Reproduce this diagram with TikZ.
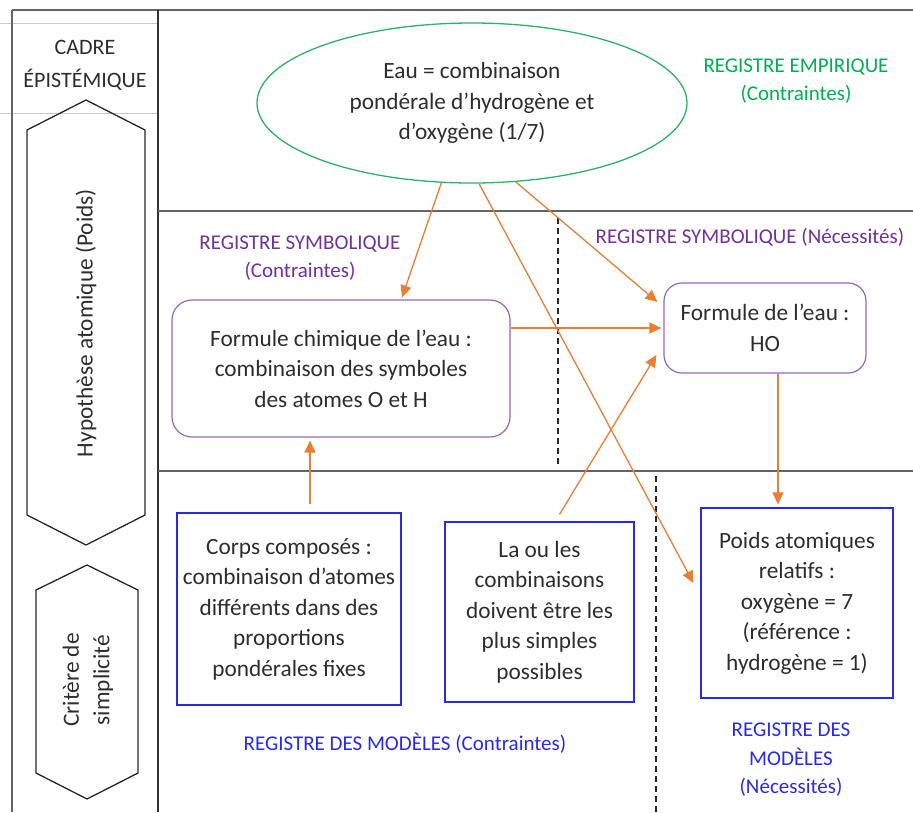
\documentclass[tikz,border=0pt]{standalone}
\usepackage{fontspec}
\setmainfont{Carlito}
\usetikzlibrary{arrows.meta,shapes.geometric,calc}
\definecolor{txt}{RGB}{45,45,45}
\definecolor{orng}{RGB}{237,125,49}
\definecolor{grn}{RGB}{0,176,80}
\definecolor{grnline}{RGB}{40,180,100}
\definecolor{purp}{RGB}{112,48,160}
\definecolor{purpline}{RGB}{150,100,200}
\definecolor{blu}{RGB}{40,40,245}
\definecolor{gridgray}{RGB}{100,100,100}
\definecolor{lightgray}{RGB}{200,200,200}
\tikzset{
  maintext/.style={text=txt,font=\fontsize{23.3}{30.5}\selectfont,align=center,inner sep=0pt},
  labeltext/.style={font=\fontsize{21}{28.5}\selectfont,align=center,inner sep=0pt},
  symbox/.style={draw=purpline,line width=1.2pt,rounded corners=20pt,maintext},
  modbox/.style={draw=blu,line width=1.2pt,maintext},
  oarrow/.style={draw=orng,line width=1.3pt,-{Triangle[length=12pt,width=11pt]}},
  hexshape/.style={draw=black!85,line width=1.3pt},
}
\begin{document}
\begin{tikzpicture}[x=1pt,y=-1pt]
\useasboundingbox (0,0) rectangle (913,812);
% frame lines
\draw[lightgray,line width=0.8pt] (0,23) -- (158,23);
\draw[lightgray,line width=0.8pt] (0,113) -- (158,113);
\draw[gridgray,line width=1.2pt] (12,10) -- (913,10);
\draw[gridgray,line width=1.2pt] (12,10) -- (12,812);
\draw[black!80,line width=2pt] (158,10) -- (158,812);
\draw[gridgray,line width=2pt] (158,211) -- (913,211);
\draw[gridgray,line width=2pt] (158,471) -- (913,471);
\draw[black!85,line width=1.3pt,dash pattern=on 6pt off 4pt] (558,218) -- (558,466);
\draw[black!85,line width=1.3pt,dash pattern=on 6pt off 4pt] (656,476) -- (656,812);
% left column
\node[maintext,font=\fontsize{22}{33}\selectfont] (cadre) at (85,65) {CADRE\\ÉPISTÉMIQUE};
\draw[hexshape] (86,100) -- (145,130) -- (145,515) -- (86,545) -- (27,515) -- (27,130) -- cycle;
\node[maintext,rotate=90] (hyp) at (86,323) {Hypothèse atomique (Poids)};
\draw[hexshape] (87,565) -- (138,590) -- (138,773) -- (87,799) -- (36,773) -- (36,590) -- cycle;
\node[maintext,rotate=90] (crit) at (88,680) {Critère de\\simplicité};
% ellipse
\node[ellipse,draw=grnline,line width=1.3pt,minimum width=430pt,minimum height=160pt,inner sep=0pt,maintext] (eau) at (472,103) {Eau = combinaison\\pondérale d’hydrogène et\\d’oxygène (1/7)};
% labels
\node[labeltext,text=grn] (lemp) at (796,81) {REGISTRE EMPIRIQUE\\(Contraintes)};
\node[labeltext,text=purp] (lsym1) at (300,258) {REGISTRE SYMBOLIQUE\\(Contraintes)};
\node[labeltext,text=purp] (lsym2) at (750,237) {REGISTRE SYMBOLIQUE (Nécessités)};
\node[labeltext,text=blu] (lmod1) at (405,743) {REGISTRE DES MODÈLES (Contraintes)};
\node[labeltext,text=blu] (lmod2) at (791,760) {REGISTRE DES\\MODÈLES\\(Nécessités)};
% boxes
\node[symbox,minimum width=338pt,minimum height=137pt] (fc) at (341,368.5) {Formule chimique de l’eau :\\combinaison des symboles\\des atomes O et H};
\node[symbox,rounded corners=18pt,minimum width=202pt,minimum height=90pt] (fe) at (765,328) {Formule de l’eau :\\HO};
\node[modbox,minimum width=224pt,minimum height=192pt] (cc) at (289,609) {Corps composés :\\combinaison d’atomes\\différents dans des\\proportions\\pondérales fixes};
\node[modbox,minimum width=189pt,minimum height=180pt] (lb) at (539.5,612) {La ou les\\combinaisons\\doivent être les\\plus simples\\possibles};
\node[modbox,minimum width=192pt,minimum height=190pt] (pa) at (797,603) {Poids atomiques\\relatifs :\\oxygène = 7\\(référence :\\hydrogène = 1)};
% arrows
\draw[oarrow] (eau.-111) -- ([xshift=61pt,yshift=2pt]fc.north);
\draw[oarrow] (eau.-61) -- ([xshift=-6pt,yshift=26pt]fe.west);
\draw[oarrow] (eau.-85) -- ([xshift=-7pt,yshift=20pt]pa.west);
\draw[oarrow] (fc.east |- fe.west) -- ([xshift=-2pt]fe.west);
\draw[oarrow] ([xshift=20pt,yshift=7pt]lb.north) -- ([xshift=-7pt,yshift=-27pt]fe.west);
\draw[oarrow] ([xshift=21pt,yshift=8pt]cc.north) -- ([xshift=-31pt,yshift=-3pt]fc.south);
\draw[oarrow] ([xshift=13pt]fe.south) -- ([xshift=-19pt,yshift=3pt]pa.north);
\end{tikzpicture}
\end{document}
